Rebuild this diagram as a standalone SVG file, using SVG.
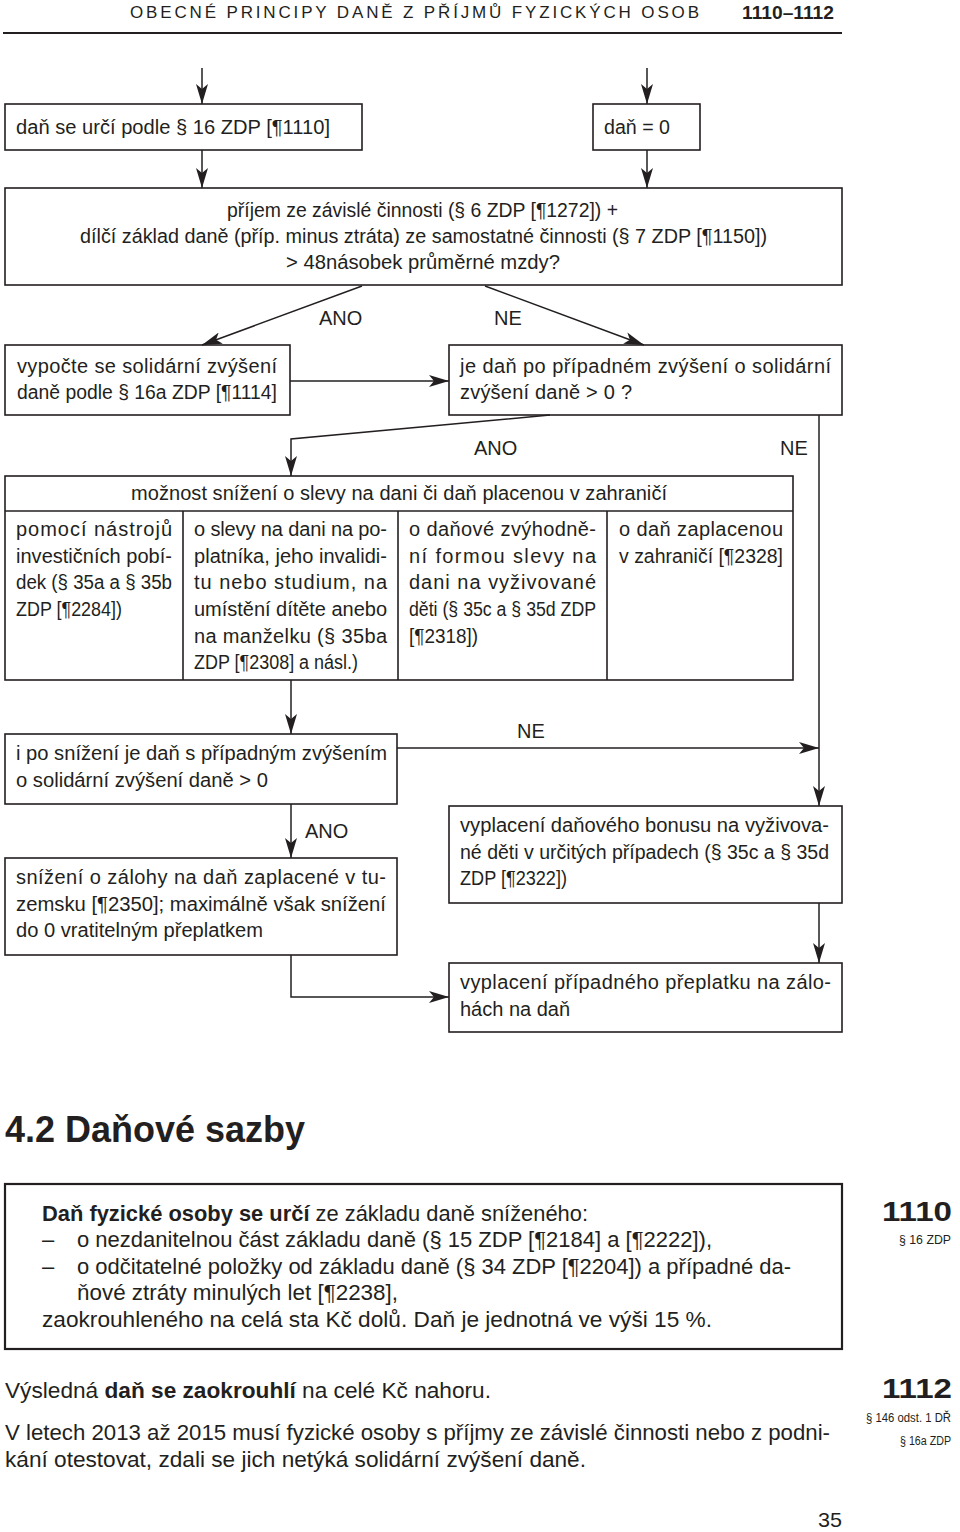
<svg xmlns="http://www.w3.org/2000/svg" width="960" height="1532" viewBox="0 0 960 1532">
<defs>
<style>
.bx{fill:none;stroke:#231f20;stroke-width:1.6}
.bx2{fill:none;stroke:#231f20;stroke-width:2.2}
.cn{fill:none;stroke:#231f20;stroke-width:1.5}
text{font-family:"Liberation Sans",Arial,Helvetica,sans-serif;fill:#231f20}
.t{font-size:20px}
.p{font-size:22px}
.b{font-weight:bold}
.s{font-size:13px}
</style>
<marker id="ah" markerUnits="userSpaceOnUse" viewBox="0 0 22 12" markerWidth="22" markerHeight="12" refX="20" refY="6" orient="auto">
<path d="M0,0 L20,6 L0,12 L5,6 Z" fill="#231f20"/>
</marker>
</defs>
<rect width="960" height="1532" fill="#fff"/>

<g id="header">
<text x="130" y="18" font-size="17" textLength="569" lengthAdjust="spacing">OBECNÉ PRINCIPY DANĚ Z PŘÍJMŮ FYZICKÝCH OSOB</text>
<text x="742" y="19" class="b" font-size="19" textLength="92" lengthAdjust="spacingAndGlyphs">1110–1112</text>
<line x1="3" y1="33" x2="842" y2="33" stroke="#231f20" stroke-width="2"/>
</g>

<g id="connectors">
<line class="cn" x1="202" y1="68" x2="202" y2="104" marker-end="url(#ah)"/>
<line class="cn" x1="647" y1="68" x2="647" y2="104" marker-end="url(#ah)"/>
<line class="cn" x1="202" y1="150" x2="202" y2="188" marker-end="url(#ah)"/>
<line class="cn" x1="647" y1="150" x2="647" y2="188" marker-end="url(#ah)"/>
<line class="cn" x1="362" y1="286" x2="202" y2="345" marker-end="url(#ah)"/>
<line class="cn" x1="485" y1="286" x2="644" y2="345" marker-end="url(#ah)"/>
<line class="cn" x1="290" y1="381" x2="449" y2="381" marker-end="url(#ah)"/>
<polyline class="cn" points="550,415 291,439 291,476" marker-end="url(#ah)"/>
<line class="cn" x1="819" y1="415" x2="819" y2="806" marker-end="url(#ah)"/>
<line class="cn" x1="291" y1="680" x2="291" y2="734" marker-end="url(#ah)"/>
<line class="cn" x1="397" y1="748" x2="819" y2="748" marker-end="url(#ah)"/>
<line class="cn" x1="291" y1="804" x2="291" y2="858" marker-end="url(#ah)"/>
<polyline class="cn" points="291,955 291,997 449,997" marker-end="url(#ah)"/>
<line class="cn" x1="819" y1="903" x2="819" y2="963" marker-end="url(#ah)"/>
<text class="t" x="319" y="325">ANO</text>
<text class="t" x="494" y="325">NE</text>
<text class="t" x="474" y="455">ANO</text>
<text class="t" x="780" y="455">NE</text>
<text class="t" x="517" y="738">NE</text>
<text class="t" x="305" y="838">ANO</text>
</g>

<g id="n-dan16">
<rect class="bx" x="5" y="104" width="357" height="46"/>
<text class="t" x="16" y="134" textLength="314" lengthAdjust="spacingAndGlyphs">daň se určí podle § 16 ZDP [¶1110]</text>
</g>

<g id="n-dan0">
<rect class="bx" x="593" y="104" width="107" height="46"/>
<text class="t" x="604" y="134" textLength="66" lengthAdjust="spacingAndGlyphs">daň = 0</text>
</g>

<g id="n-prijem">
<rect class="bx" x="5" y="188" width="837" height="97"/>
<text class="t" x="227" y="217" textLength="391" lengthAdjust="spacingAndGlyphs">příjem ze závislé činnosti (§ 6 ZDP [¶1272]) +</text>
<text class="t" x="80" y="243" textLength="687" lengthAdjust="spacingAndGlyphs">dílčí základ daně (příp. minus ztráta) ze samostatné činnosti (§ 7 ZDP [¶1150])</text>
<text class="t" x="286" y="269" textLength="274" lengthAdjust="spacingAndGlyphs">&gt; 48násobek průměrné mzdy?</text>
</g>

<g id="n-vypocte">
<rect class="bx" x="5" y="345" width="285" height="70"/>
<text class="t" x="17" y="373" textLength="260" lengthAdjust="spacing">vypočte se solidární zvýšení</text>
<text class="t" x="17" y="399" textLength="260" lengthAdjust="spacingAndGlyphs">daně podle § 16a ZDP [¶1114]</text>
</g>

<g id="n-jedan">
<rect class="bx" x="449" y="345" width="393" height="70"/>
<text class="t" x="460" y="373" textLength="371" lengthAdjust="spacing">je daň po případném zvýšení o solidární</text>
<text class="t" x="460" y="399" textLength="172" lengthAdjust="spacing">zvýšení daně &gt; 0 ?</text>
</g>

<g id="n-moznost">
<rect class="bx" x="5" y="476" width="788" height="204"/>
<line class="bx" x1="5" y1="511" x2="793" y2="511"/>
<line class="bx" x1="183" y1="511" x2="183" y2="680"/>
<line class="bx" x1="398" y1="511" x2="398" y2="680"/>
<line class="bx" x1="607" y1="511" x2="607" y2="680"/>
<text class="t" x="131" y="500" textLength="536" lengthAdjust="spacing">možnost snížení o slevy na dani či daň placenou v zahraničí</text>
<text class="t" x="16" y="536" textLength="156" lengthAdjust="spacing">pomocí nástrojů</text>
<text class="t" x="16" y="563" textLength="156" lengthAdjust="spacing">investičních pobí-</text>
<text class="t" x="16" y="589" textLength="156" lengthAdjust="spacingAndGlyphs">dek (§ 35a a § 35b</text>
<text class="t" x="16" y="616" textLength="106" lengthAdjust="spacingAndGlyphs">ZDP [¶2284])</text>
<text class="t" x="194" y="536" textLength="193" lengthAdjust="spacing">o slevy na dani na po-</text>
<text class="t" x="194" y="563" textLength="193" lengthAdjust="spacing">platníka, jeho invalidi-</text>
<text class="t" x="194" y="589" textLength="193" lengthAdjust="spacing">tu nebo studium, na</text>
<text class="t" x="194" y="616" textLength="193" lengthAdjust="spacing">umístění dítěte anebo</text>
<text class="t" x="194" y="643" textLength="193" lengthAdjust="spacing">na manželku (§ 35ba</text>
<text class="t" x="194" y="669" textLength="164" lengthAdjust="spacingAndGlyphs">ZDP [¶2308] a násl.)</text>
<text class="t" x="409" y="536" textLength="187" lengthAdjust="spacing">o daňové zvýhodně-</text>
<text class="t" x="409" y="563" textLength="187" lengthAdjust="spacing">ní formou slevy na</text>
<text class="t" x="409" y="589" textLength="187" lengthAdjust="spacing">dani na vyživované</text>
<text class="t" x="409" y="616" textLength="187" lengthAdjust="spacingAndGlyphs">děti (§ 35c a § 35d ZDP</text>
<text class="t" x="409" y="643" textLength="69" lengthAdjust="spacingAndGlyphs">[¶2318])</text>
<text class="t" x="619" y="536" textLength="164" lengthAdjust="spacing">o daň zaplacenou</text>
<text class="t" x="619" y="563" textLength="164" lengthAdjust="spacingAndGlyphs">v zahraničí [¶2328]</text>
</g>

<g id="n-iposnizeni">
<rect class="bx" x="5" y="734" width="392" height="70"/>
<text class="t" x="16" y="760" textLength="371" lengthAdjust="spacingAndGlyphs">i po snížení je daň s případným zvýšením</text>
<text class="t" x="16" y="787" textLength="252" lengthAdjust="spacingAndGlyphs">o solidární zvýšení daně &gt; 0</text>
</g>

<g id="n-snizeni-zalohy">
<rect class="bx" x="5" y="858" width="392" height="97"/>
<text class="t" x="16" y="884" textLength="370" lengthAdjust="spacing">snížení o zálohy na daň zaplacené v tu-</text>
<text class="t" x="16" y="911" textLength="370" lengthAdjust="spacingAndGlyphs">zemsku [¶2350]; maximálně však snížení</text>
<text class="t" x="16" y="937" textLength="247" lengthAdjust="spacingAndGlyphs">do 0 vratitelným přeplatkem</text>
</g>

<g id="n-bonus">
<rect class="bx" x="449" y="806" width="393" height="97"/>
<text class="t" x="460" y="832" textLength="369" lengthAdjust="spacingAndGlyphs">vyplacení daňového bonusu na vyživova-</text>
<text class="t" x="460" y="859" textLength="369" lengthAdjust="spacingAndGlyphs">né děti v určitých případech (§ 35c a § 35d</text>
<text class="t" x="460" y="885" textLength="107" lengthAdjust="spacingAndGlyphs">ZDP [¶2322])</text>
</g>

<g id="n-preplatek">
<rect class="bx" x="449" y="963" width="393" height="69"/>
<text class="t" x="460" y="989" textLength="371" lengthAdjust="spacing">vyplacení případného přeplatku na zálo-</text>
<text class="t" x="460" y="1016">hách na daň</text>
</g>

<g id="section-title">
<text x="5" y="1142" class="b" font-size="36" textLength="300" lengthAdjust="spacingAndGlyphs">4.2 Daňové sazby</text>
</g>

<g id="rule-box">
<rect class="bx2" x="5" y="1184" width="837" height="165"/>
<text class="p" x="42" y="1221" textLength="546" lengthAdjust="spacingAndGlyphs"><tspan class="b">Daň fyzické osoby se určí</tspan> ze základu daně sníženého:</text>
<text class="p" x="42" y="1247">–</text>
<text class="p" x="77" y="1247" textLength="635" lengthAdjust="spacingAndGlyphs">o nezdanitelnou část základu daně (§ 15 ZDP [¶2184] a [¶2222]),</text>
<text class="p" x="42" y="1274">–</text>
<text class="p" x="77" y="1274" textLength="714" lengthAdjust="spacingAndGlyphs">o odčitatelné položky od základu daně (§ 34 ZDP [¶2204]) a případné da-</text>
<text class="p" x="77" y="1300" textLength="321" lengthAdjust="spacingAndGlyphs">ňové ztráty minulých let [¶2238],</text>
<text class="p" x="42" y="1327" textLength="670" lengthAdjust="spacingAndGlyphs">zaokrouhleného na celá sta Kč dolů. Daň je jednotná ve výši 15 %.</text>
</g>

<g id="margin-1110">
<text x="882" y="1221" class="b" font-size="27" textLength="70" lengthAdjust="spacingAndGlyphs">1110</text>
<text x="899" y="1244" class="s" textLength="52" lengthAdjust="spacingAndGlyphs">§ 16 ZDP</text>
</g>

<g id="para-1112">
<text class="p" x="5" y="1398" textLength="486" lengthAdjust="spacingAndGlyphs">Výsledná <tspan class="b">daň se zaokrouhlí</tspan> na celé Kč nahoru.</text>
<text class="p" x="5" y="1440" textLength="825" lengthAdjust="spacingAndGlyphs">V letech 2013 až 2015 musí fyzické osoby s příjmy ze závislé činnosti nebo z podni-</text>
<text class="p" x="5" y="1467" textLength="581" lengthAdjust="spacingAndGlyphs">kání otestovat, zdali se jich netýká solidární zvýšení daně.</text>
</g>

<g id="margin-1112">
<text x="882" y="1398" class="b" font-size="27" textLength="70" lengthAdjust="spacingAndGlyphs">1112</text>
<text x="866" y="1422" font-size="12" textLength="85" lengthAdjust="spacingAndGlyphs">§ 146 odst. 1 DŘ</text>
<text x="900" y="1445" font-size="12" textLength="51" lengthAdjust="spacingAndGlyphs">§ 16a ZDP</text>
</g>

<g id="page-number">
<text x="818" y="1527" font-size="21" textLength="24" lengthAdjust="spacingAndGlyphs">35</text>
</g>
</svg>
